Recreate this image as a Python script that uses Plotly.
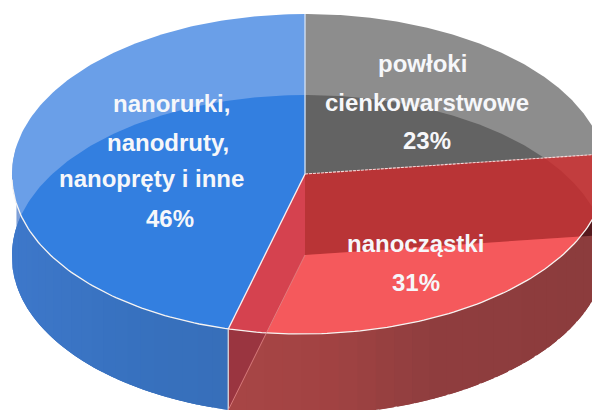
import numpy as np
import plotly.graph_objects as go

# Data, clockwise from twelve o'clock
categories = ["powłoki cienkowarstwowe", "nanocząstki", "nanorurki, nanodruty, nanopręty i inne"]
shares = [23, 31, 46]
label_lines = [["powłoki", "cienkowarstwowe", "23%"],
               ["nanocząstki", "31%"],
               ["nanorurki,", "nanodruty,", "nanopręty i inne", "46%"]]
label_x = [[422, 427, 427], [415, 416], [171, 168, 151, 170]]
label_y = [[63, 102, 140], [243, 282], [103, 142, 178, 218]]

# Projection of the disc on the page
CX, CY = 305.0, 174.0
RX_L, RX_R, RY = 293.0, 301.0, 160.0
DEPTH = 81.0
LEAN = 4.0
W, H = 592, 410

edges = np.cumsum([0] + shares) / sum(shares) * 360.0


def pts(t0, t1, dy=0.0, n=160):
    t = np.radians(np.linspace(t0, t1, n))
    s, c = np.sin(t), np.cos(t)
    x = CX + np.where(s >= 0, RX_R, RX_L) * s - LEAN * np.maximum(-c, 0)
    y = CY + dy - RY * c
    return np.column_stack([x, y])


def wedge(i, dy=0.0):
    return np.vstack([[CX, CY + dy], pts(edges[i], edges[i + 1], dy)])


def clip(subject, clipper):
    """Sutherland-Hodgman clipping against a convex polygon."""
    c = np.asarray(clipper)
    area = np.sum(c[:, 0] * np.roll(c[:, 1], -1) - np.roll(c[:, 0], -1) * c[:, 1])
    sign = 1 if area > 0 else -1
    out = [tuple(p) for p in subject]
    for k in range(len(c)):
        a, b = c[k], c[(k + 1) % len(c)]
        if np.allclose(a, b):
            continue
        side = lambda p: sign * ((b[0] - a[0]) * (p[1] - a[1]) - (b[1] - a[1]) * (p[0] - a[0]))
        inp, out = out, []
        for j in range(len(inp)):
            p, q = np.array(inp[j]), np.array(inp[(j + 1) % len(inp)])
            sp, sq = side(p), side(q)
            if sp >= 0:
                out.append(tuple(p))
            if sp * sq < 0:
                out.append(tuple(p + (q - p) * sp / (sp - sq)))
        if not out:
            return np.empty((0, 2))
    return np.array(out)


def wall(t0, t1):
    return np.vstack([pts(t0, t1), pts(t1, t0, DEPTH)])


def hex_rgb(h):
    return np.array([int(h[i:i + 2], 16) for i in (1, 3, 5)], float)


def ramp(stops, x):
    xs = [s[0] for s in stops]
    rgb = [np.interp(x, xs, [hex_rgb(s[1])[i] for s in stops]) for i in range(3)]
    return "rgb(%d,%d,%d)" % tuple(rgb)


fig = go.Figure()


def poly(p, color):
    if len(p) == 0:
        return
    closed = np.vstack([p, p[:1]])
    fig.add_trace(go.Scatter(x=closed[:, 0], y=closed[:, 1], mode="lines", fill="toself",
                             fillcolor=color, line=dict(color=color, width=0),
                             hoverinfo="skip"))


def stroke(p, color, width=1.2, dash="solid"):
    fig.add_trace(go.Scatter(x=p[:, 0], y=p[:, 1], mode="lines",
                             line=dict(color=color, width=width, dash=dash), hoverinfo="skip"))


GREY, RED, BLUE = 0, 1, 2
T = [wedge(i) for i in range(3)]
S = [wedge(i, DEPTH) for i in range(3)]
shifted_disc = pts(0, 360, DEPTH, 360)[:-1]

# Walls, in overlapping vertical strips for the sideways shading
blue_stops = [(12, "#3E78CA"), (120, "#3872C0"), (228, "#376FBA")]
red_stops = [(228, "#A84646"), (330, "#A24343"), (430, "#903E3F"), (600, "#8C3C3D")]
blue_start, left_end = edges[2], 270.0
right_end = 90.0
poly(wall(blue_start, 280), "#7D9FD8")
steps = np.linspace(blue_start, left_end, 25)
for a, b in zip(steps[:-1], steps[1:]):
    strip = clip(wall(a, left_end if b + 3 > left_end else b + 3), shifted_disc)
    poly(strip, ramp(blue_stops, strip[:, 0].max() - 8))
steps = np.linspace(right_end, blue_start, 30)
for a, b in zip(steps[:-1], steps[1:]):
    strip = wall(a, min(b + 3, blue_start))
    poly(strip, ramp(red_stops, strip[:, 0].max() - 8))
red_wall = wall(right_end, blue_start)
poly(clip(red_wall, S[BLUE]), "#9A3540")
poly(clip(red_wall, S[GREY]), "#561A1E")

# Top face with the band of reflection
poly(T[BLUE], "#6A9FE8")
poly(clip(T[BLUE], S[BLUE]), "#337FE0")
poly(T[GREY], "#8D8D8D")
poly(clip(T[GREY], S[GREY]), "#636363")
poly(T[RED], "#C23D3E")
poly(clip(T[RED], S[GREY]), "#B93436")
poly(clip(T[RED], S[RED]), "#F5595C")
poly(clip(T[RED], S[BLUE]), "#D5424F")

# Rims and slice borders
stroke(pts(100, 268), "#F7F4F2", 1.3)
stroke(np.vstack([[CX, CY], pts(edges[0], edges[0], n=1)]), "#D5E4F8", 1.3)
stroke(np.vstack([[CX, CY], pts(edges[1], edges[1], n=1)]), "#F3DADA", 1.1, "3px,1px")
stroke(np.vstack([[CX, CY], pts(edges[2], edges[2], n=1)]), "#FAF2F2", 1.3)
stroke(np.vstack([pts(edges[2], edges[2], n=1), pts(edges[2], edges[2], DEPTH, n=1)]), "#DAD8DE", 1.3)
stroke(np.vstack([[CX, CY + DEPTH], pts(edges[2], edges[2], DEPTH, n=1)]), "#E58A8A", 0.8)

annotations = []
for lines, xs, ys in zip(label_lines, label_x, label_y):
    for txt, x, y in zip(lines, xs, ys):
        annotations.append(dict(x=x, y=y, xref="x", yref="y", text=txt, showarrow=False,
                                xanchor="center", yanchor="middle",
                                font=dict(family="Liberation Sans", size=24, color="#F6F7FA", weight="bold")))

fig.update_layout(
    width=W, height=H, margin=dict(l=0, r=0, t=0, b=0), showlegend=False,
    paper_bgcolor="white", plot_bgcolor="white", annotations=annotations,
    xaxis=dict(range=[0, W], visible=False, fixedrange=True),
    yaxis=dict(range=[H, 0], visible=False, fixedrange=True),
)
fig.write_html("out.html", config=dict(displayModeBar=False),
               post_script="document.body.style.margin='0';document.body.style.overflow='hidden';")
